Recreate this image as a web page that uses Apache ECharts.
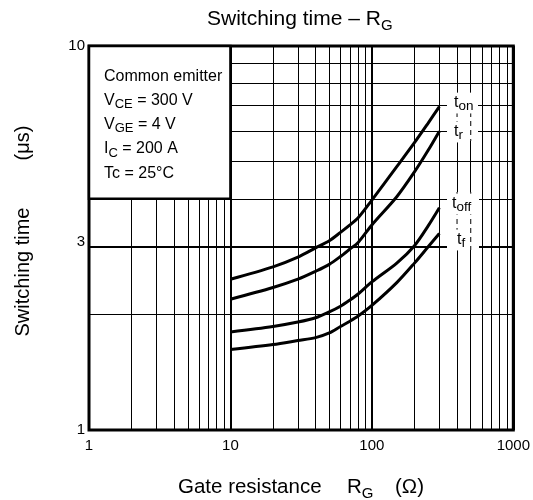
<!DOCTYPE html>
<html>
<head>
<meta charset="utf-8">
<script src="https://cdn.jsdelivr.net/npm/echarts@6/dist/echarts.min.js"></script>
<style>
  html, body { margin: 0; padding: 0; background: #fff; }
  #chart { width: 533px; height: 500px; }
</style>
</head>
<body>
<div id="chart"></div>
<script>
// gate resistance RG (ohm)
const rg = [10, 20, 30, 40, 50, 60, 70, 80, 100, 150, 200, 250, 300]
// switching times (us)
const tOn  = [2.47, 2.66, 2.82, 2.98, 3.11, 3.27, 3.42, 3.57, 3.97, 4.85, 5.6, 6.3, 6.95]
const tR   = [2.19, 2.35, 2.47, 2.59, 2.70, 2.83, 2.96, 3.08, 3.42, 4.05, 4.7, 5.35, 6.0]
const tOff = [1.80, 1.86, 1.91, 1.96, 2.03, 2.10, 2.18, 2.26, 2.43, 2.72, 3.02, 3.4, 3.79]
const tF   = [1.62, 1.67, 1.71, 1.74, 1.79, 1.86, 1.92, 1.98, 2.11, 2.42, 2.72, 3.0, 3.25]
const curveSubs = ['on', 'r', 'off', 'f']
// minor grid lines of the log-log paper
const xMinor = [2, 3, 4, 5, 6, 7, 8, 9, 20, 30, 40, 50, 60, 70, 80, 90, 200, 300, 400, 500, 600, 700, 800, 900]
const yMinor = [2, 3, 4, 5, 6, 7, 8, 9]
const yExtraLabels = [3]
const conditions = ['Common emitter', 'V{s|CE} = 300 V', 'V{s|GE} = 4 V', 'I{s|C} = 200 A', 'Tc = 25°C']

const FONT = '"Liberation Sans", Arial, sans-serif'
const chart = echarts.init(document.getElementById('chart'))

const gridLines = xMinor.map(v => ({ xAxis: v })).concat(yMinor.map(v => {
  const item = { yAxis: v }
  if (yExtraLabels.includes(v)) {
    item.lineStyle = { width: 2 }
    item.label = { show: true, position: 'start', formatter: String(v), color: '#000', fontSize: 15, fontFamily: FONT, distance: 4, offset: [0, -5] }
  }
  return item
}))

const curves = [tOn, tR, tOff, tF].map((arr, i) => ({
  name: 't' + curveSubs[i],
  type: 'line',
  data: rg.map((r, j) => [r, arr[j]]),
  smooth: 0.3,
  symbol: 'none',
  z: 10,
  lineStyle: { color: '#000', width: 3 }
}))

chart.setOption({
  animation: false,
  grid: { left: 89, right: 18, top: 46, bottom: 70, show: true, borderColor: '#000', borderWidth: 3 },
  xAxis: {
    type: 'log', logBase: 10, min: 1, max: 1000,
    axisLine: { show: false }, axisTick: { show: false },
    axisLabel: { color: '#000', fontSize: 15, fontFamily: FONT, margin: 8, formatter: v => String(v) },
    splitLine: { show: true, lineStyle: { color: '#000', width: 2 } }
  },
  yAxis: {
    type: 'log', logBase: 10, min: 1, max: 10,
    axisLine: { show: false }, axisTick: { show: false },
    axisLabel: { color: '#000', fontSize: 15, fontFamily: FONT, margin: 4, formatter: v => String(v) },
    splitLine: { show: false }
  },
  series: [{
    type: 'line', data: [], z: 1, silent: true,
    markLine: {
      silent: true, symbol: 'none', animation: false,
      label: { show: false },
      lineStyle: { color: '#000', width: 1, type: 'solid' },
      data: gridLines
    }
  }].concat(curves)
})

// texts and the condition box
function px(x, y) { return chart.convertToPixel({ gridIndex: 0 }, [x, y]) }

function richText(left, baseline, text, size, sub, z, extra) {
  const lh = size * 1.3
  return Object.assign({
    type: 'text', left: left, top: baseline - lh / 2 - size * 0.31, z: z || 60,
    style: {
      text: text, fill: '#000', fontSize: size, fontFamily: FONT, lineHeight: lh,
      rich: {
        n: { fontSize: size, fontFamily: FONT, lineHeight: lh },
        s: { fontSize: sub, fontFamily: FONT, lineHeight: lh - 2 * (size * 0.17 + 0.31 * sub - 0.31 * size), verticalAlign: 'bottom' }
      }
    }
  }, extra || {})
}

const tl = px(1, 10), br = px(10, 4)
const x400 = px(400, 1)[0], x500 = px(500, 1)[0]

const graphics = [
  { type: 'rect', z: 50, shape: { x: tl[0], y: tl[1], width: br[0] - tl[0], height: br[1] - tl[1] },
    style: { fill: '#fff', stroke: '#000', lineWidth: 2.5 } },
  // title
  richText(207, 26, 'Switching time – R{s|G}', 21, 15),
  // x axis name
  richText(178, 494, 'Gate resistance', 20.5, 15),
  richText(347, 494, 'R{s|G}', 20.5, 15),
  richText(395, 494, '(Ω)', 20.5, 15),
  // y axis name
  { type: 'text', x: 23, y: 272, rotation: Math.PI / 2, z: 60,
    style: { text: 'Switching time', fill: '#000', fontSize: 20, fontFamily: FONT, align: 'center', verticalAlign: 'middle' } },
  { type: 'text', x: 23, y: 143, rotation: Math.PI / 2, z: 60,
    style: { text: '(μs)', fill: '#000', fontSize: 20, fontFamily: FONT, align: 'center', verticalAlign: 'middle' } },
  // white columns behind the curve names
  { type: 'rect', z: 40, shape: { x: 447, y: 94, width: 31, height: 47 }, style: { fill: '#fff' } },
  { type: 'rect', z: 40, shape: { x: 447, y: 192, width: 32, height: 58 }, style: { fill: '#fff' } }
]
;[[94, 141], [192, 250]].forEach(seg => {
  ;[x400, x500].forEach(x => {
    graphics.push({ type: 'line', z: 41, shape: { x1: x, y1: seg[0], x2: x, y2: seg[1] },
      style: { stroke: '#000', lineWidth: 1, lineDash: [5, 4] } })
  })
})
conditions.forEach((t, i) => graphics.push(richText(104, 81.7 + i * 24.1, t, 16, 13, 60)))

const labelPos = [[454, 108], [454, 137], [452, 209], [457, 245]]
curveSubs.forEach((s, i) => {
  const g = richText(labelPos[i][0], labelPos[i][1], 't{s|' + s + '}', 16, 13.5, 45)
  g.style.backgroundColor = '#fff'
  g.style.padding = [0, 2, 0, 1]
  g.left -= 1
  graphics.push(g)
})

chart.setOption({ graphic: graphics })
</script>
</body>
</html>
